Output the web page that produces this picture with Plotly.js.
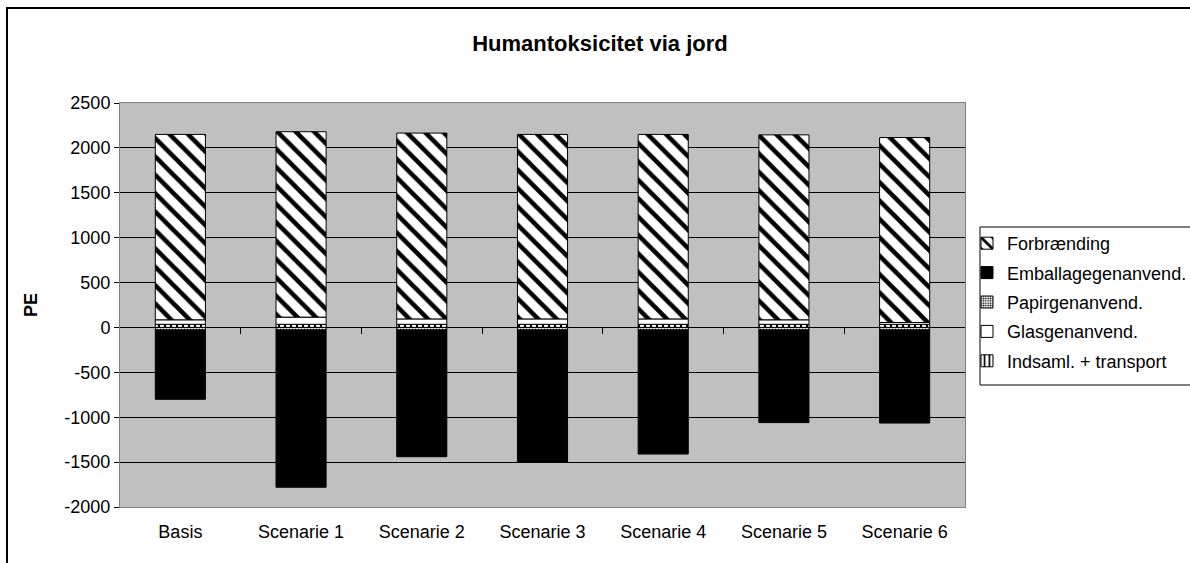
<!DOCTYPE html>
<html>
<head>
<meta charset="utf-8">
<script src="https://cdn.plot.ly/plotly-3.0.1.min.js"></script>
<style>
html,body{margin:0;padding:0;background:#fff;overflow:hidden;}
#chart{position:absolute;left:0;top:0;width:1190px;height:563px;}
#frame{position:absolute;left:6px;top:7px;width:1300px;height:700px;border-left:2px solid #000;border-top:2px solid #000;pointer-events:none;}
</style>
</head>
<body>
<div id="chart"></div>
<div id="frame"></div>
<script>
const categories = ["Basis","Scenarie 1","Scenarie 2","Scenarie 3","Scenarie 4","Scenarie 5","Scenarie 6"];
const indsamlTransport = [35, 35, 35, 35, 35, 35, 35];
const glasgenanvend = [50, 80, 60, 60, 60, 50, 20];
const papirgenanvend = [-30, -30, -30, -30, -30, -30, -30];
const emballagegenanvend = [-770, -1750, -1410, -1470, -1380, -1030, -1035];
const forbraending = [2065, 2065, 2070, 2055, 2055, 2060, 2060];
const yTicks = [-2000, -1500, -1000, -500, 0, 500, 1000, 1500, 2000, 2500];

const FONT = "Arial, 'Liberation Sans', sans-serif";
const line = {color: '#000', width: 1};

const traces = [
  {name: 'Indsaml. + transport', legendgroup: 'g5', legendrank: 5, x: categories, y: indsamlTransport, type: 'bar',
   marker: {color: '#fff', line: line, pattern: {shape: '|', fgcolor: '#000', bgcolor: '#fff', size: 6, solidity: 0.35}}},
  {name: 'Glasgenanvend.', legendgroup: 'g4', legendrank: 4, x: categories, y: glasgenanvend, type: 'bar',
   marker: {color: '#fff', line: line}},
  {name: 'Papirgenanvend.', legendgroup: 'g3', legendrank: 3, x: categories, y: papirgenanvend, type: 'bar',
   marker: {color: '#fff', line: line, pattern: {shape: '.', fgcolor: '#000', bgcolor: '#fff', size: 3, solidity: 0.4}}},
  {name: 'Emballagegenanvend.', legendgroup: 'g2', legendrank: 2, x: categories, y: emballagegenanvend, type: 'bar',
   marker: {color: '#000', line: line}},
  {name: 'Forbrænding', legendgroup: 'g1', legendrank: 1, x: categories, y: forbraending, type: 'bar',
   marker: {color: '#fff', line: line, pattern: {shape: '\\', fgcolor: '#000', bgcolor: '#fff', size: 13, solidity: 0.35}}},
  // invisible helper to draw category boundary ticks on the zero line
  {x: [0], y: [0], xaxis: 'x2', yaxis: 'y', type: 'scatter', mode: 'markers',
   marker: {opacity: 0}, showlegend: false, hoverinfo: 'skip'}
];

const layout = {
  width: 1190, height: 563,
  paper_bgcolor: '#fff', plot_bgcolor: '#c0c0c0',
  margin: {l: 120, r: 225, t: 103, b: 56, pad: 0, autoexpand: false},
  font: {family: FONT, size: 18, color: '#000'},
  title: {text: '<b>Humantoksicitet via jord</b>', x: 600/1190, xref: 'container', xanchor: 'center',
          y: 1 - 43/563, yref: 'container', yanchor: 'middle',
          font: {family: FONT, size: 22, color: '#000'}},
  barmode: 'relative', bargap: 0.585,
  showlegend: true,
  legend: {x: (967 - 120) / 845, xanchor: 'left', y: (507 - 225) / 404, yanchor: 'top', traceorder: 'grouped',
           borderwidth: 0, bgcolor: 'rgba(0,0,0,0)',
           font: {family: FONT, size: 18, color: '#000'}, tracegroupgap: 3, itemwidth: 30},
  shapes: [{type: 'rect', xref: 'paper', yref: 'paper', x0: (980 - 120) / 845, x1: 1.3,
            y0: (507 - 385) / 404, y1: (507 - 227) / 404, line: {color: '#000', width: 1}, fillcolor: 'rgba(0,0,0,0)'}],
  xaxis: {type: 'category', showgrid: false, zeroline: false, ticks: '', showline: true, mirror: true,
          linecolor: '#808080', linewidth: 1, tickfont: {family: FONT, size: 18}, ticklabelstandoff: 8},
  xaxis2: {overlaying: 'x', anchor: 'free', position: 2000/4500, range: [-0.5, 6.5],
           tickvals: [0.5, 1.5, 2.5, 3.5, 4.5, 5.5], showticklabels: false, ticks: 'outside',
           ticklen: 6, tickcolor: '#000', tickwidth: 1, showgrid: false, zeroline: false, showline: false},
  yaxis: {range: [-2000, 2500], tickvals: yTicks, ticktext: yTicks.map(String), showgrid: true,
          gridcolor: '#000', gridwidth: 1, zeroline: true, zerolinecolor: '#000', zerolinewidth: 1,
          showline: true, mirror: true, linecolor: '#808080', linewidth: 1,
          ticks: 'outside', ticklen: 5, tickcolor: '#000', tickfont: {family: FONT, size: 18},
          title: {text: '<b>PE</b>', font: {family: FONT, size: 18}, standoff: 22}}
};

Plotly.newPlot('chart', traces, layout, {displayModeBar: false, staticPlot: true});
</script>
</body>
</html>
